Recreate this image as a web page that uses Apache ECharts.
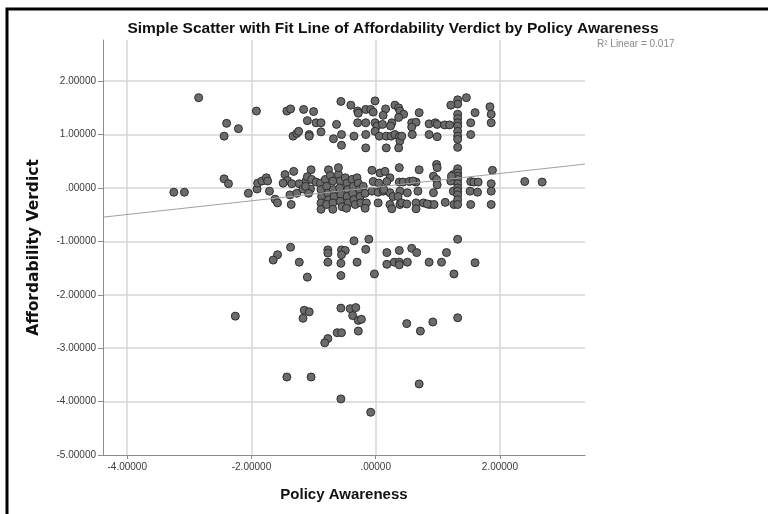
<!DOCTYPE html>
<html>
<head>
<meta charset="utf-8">
<script src="https://cdn.jsdelivr.net/npm/echarts@6/dist/echarts.min.js"></script>
<style>
html,body{margin:0;padding:0;background:#fff;}
#chart{width:768px;height:514px;}
</style>
</head>
<body>
<div id="chart"></div>
<script>
// ---- Data ----
const chartTitle = 'Simple Scatter with Fit Line of Affordability Verdict by Policy Awareness';
const xAxisTitle = 'Policy Awareness';
const yAxisTitle = 'Affordability Verdict';
const fitLabel = 'R\u00B2 Linear = 0.017';

const xRange = [-4.39, 3.37];
const yRange = [-5, 2.77];

// fitted line: verdict = fitIntercept + fitSlope * awareness
const fitIntercept = 0.015;
const fitSlope = 0.128;

const upperBand = [
  [-2.85,1.69],[-1.92,1.44],[-2.40,1.21],[-2.21,1.11],[-2.44,0.97],[-1.43,1.44],[-1.37,1.48],[-1.16,1.47],[-1.00,1.43],
  [-1.10,1.26],[-0.96,1.22],[-0.88,1.22],[-1.33,0.97],[-1.27,1.02],[-1.24,1.06],[-1.07,1.00],[-1.07,0.97],[-0.88,1.05],
  [-0.56,1.62],[-0.40,1.55],[-0.01,1.63],[-0.29,1.44],[-0.28,1.40],[-0.16,1.47],[-0.08,1.47],[-0.04,1.42],[0.16,1.48],
  [0.12,1.36],[0.31,1.55],[0.37,1.50],[0.39,1.44],[0.45,1.38],[0.37,1.32],[0.26,1.22],[0.24,1.16],[0.70,1.41],[-0.63,1.19],
  [-0.29,1.22],[-0.16,1.22],[-0.01,1.22],[0.02,1.16],[0.11,1.19],[0.58,1.22],[0.65,1.23],[0.58,1.14],[0.86,1.20],[0.96,1.22],
  [0.99,1.19],[1.11,1.18],[1.19,1.18],
  [1.32,1.65],[1.32,1.57],[1.32,1.38],[1.32,1.30],[1.32,1.22],[1.32,1.16],[1.32,1.06],[1.32,0.97],[1.32,0.91],[1.32,0.76],
  [1.21,1.55],[1.46,1.69],[1.60,1.41],[1.53,1.22],[1.53,1.00],[1.84,1.52],[1.86,1.38],[1.86,1.22],
  [-0.68,0.92],[-0.55,1.00],[-0.55,0.80],[-0.35,0.97],[-0.16,1.00],[-0.16,0.75],[-0.01,1.06],[0.06,0.97],[0.17,0.97],
  [0.17,0.75],[0.25,0.97],[0.31,1.00],[0.38,0.96],[0.39,0.88],[0.37,0.75],[0.42,0.97],[0.59,1.00],[0.86,1.00],[0.99,0.96]
];

const middleBandLeft = [
  [-3.25,-0.08],[-3.08,-0.08],[-2.44,0.17],[-2.37,0.08],
  [-2.05,-0.10],[-1.91,-0.02],[-1.90,0.09],[-1.83,0.13],[-1.76,0.19],[-1.74,0.13],[-1.71,-0.06],[-1.62,-0.21],[-1.58,-0.28],
  [-1.46,0.25],[-1.42,0.14],[-1.49,0.09],[-1.35,0.08],[-1.32,0.31],[-1.38,-0.13],[-1.36,-0.31],[-1.27,-0.10],[-1.23,0.08],
  [-1.17,-0.02],[-1.12,0.13],[-1.10,0.21],[-1.04,0.34],[-1.03,0.16],[-0.96,0.11],[-1.05,-0.02],[-1.08,-0.10],[-1.13,0.03],
  [-0.89,0.09],[-0.88,-0.03],[-0.87,-0.16],[-0.88,-0.28],[-0.88,-0.40],[-0.81,0.16],[-0.79,0.03],[-0.77,-0.10],[-0.76,-0.22],
  [-0.79,-0.31],[-0.76,0.34],[-0.73,0.23],[-0.69,0.13],[-0.68,-0.03],[-0.67,-0.16],[-0.69,-0.28],[-0.69,-0.40],[-0.60,0.25],
  [-0.57,0.13],[-0.58,0.00],[-0.56,-0.13],[-0.57,-0.25],[-0.54,-0.35],[-0.49,0.19],[-0.46,0.09],[-0.45,-0.03],[-0.46,-0.16],
  [-0.44,-0.28],[-0.47,-0.38],[-0.38,0.16],[-0.36,0.03],[-0.37,-0.10],[-0.35,-0.22],[-0.33,-0.31],[-0.30,0.19],[-0.28,0.09],
  [-0.26,-0.03],[-0.25,-0.16],[-0.24,-0.28],[-0.20,0.03],[-0.17,-0.10],[-0.15,-0.28],[-0.17,-0.38],[-0.60,0.38]
];

const middleBandRight = [
  [-0.06,0.33],[0.07,0.28],[0.15,0.31],[0.23,0.19],[0.18,0.12],[-0.04,0.12],[-0.06,-0.06],[0.04,-0.08],[0.12,-0.06],
  [0.23,-0.09],[0.28,-0.16],[0.04,-0.28],[0.23,-0.31],[0.26,-0.39],[0.38,0.38],[0.38,0.11],[0.44,0.11],[0.54,0.12],
  [0.39,-0.06],[0.51,-0.09],[0.36,-0.16],[0.39,-0.31],[0.42,-0.28],[0.50,-0.30],[0.65,0.11],[0.68,-0.06],[0.65,-0.28],
  [0.65,-0.39],[0.77,-0.28],[0.70,0.34],[0.98,0.44],[0.99,0.38],[0.93,0.22],[0.98,0.16],[0.99,0.06],[0.93,-0.09],
  [0.87,-0.31],[0.94,-0.31],[1.12,-0.27],[1.25,0.25],[1.25,-0.06],[1.26,-0.31],
  [1.32,0.36],[1.32,0.28],[1.32,0.22],[1.32,0.16],[1.32,0.08],[1.32,0.00],[1.32,-0.06],[1.32,-0.13],[1.32,-0.22],[1.32,-0.31],
  [1.53,0.12],[1.58,0.11],[1.65,0.11],[1.52,-0.06],[1.64,-0.08],[1.53,-0.31],[1.86,0.08],[1.86,-0.06],[1.86,-0.31],
  [1.88,0.33],[2.40,0.12],[2.68,0.11],
  [0.83,-0.30],[1.21,0.13],[1.22,0.22],[0.60,0.13],[0.13,-0.03],[0.05,0.09]
];

const lowerBand = [
  [-1.37,-1.11],[-1.58,-1.25],[-1.65,-1.35],[-1.23,-1.39],[-0.77,-1.16],[-0.77,-1.22],[-0.77,-1.39],[-1.10,-1.67],
  [-0.35,-0.99],[-0.11,-0.96],[1.32,-0.96],[-0.55,-1.16],[-0.49,-1.17],[-0.55,-1.25],[-0.56,-1.41],[-0.16,-1.15],
  [-0.30,-1.39],[0.18,-1.21],[0.38,-1.17],[0.58,-1.13],[0.66,-1.21],[1.14,-1.21],[0.18,-1.43],[0.30,-1.39],[0.38,-1.39],
  [0.38,-1.44],[0.51,-1.39],[0.86,-1.39],[1.06,-1.39],[1.60,-1.40],[-0.56,-1.64],[-0.02,-1.61],[1.26,-1.61]
];

const deepBand = [
  [-2.26,-2.40],[-1.15,-2.29],[-1.07,-2.32],[-1.17,-2.44],[-0.56,-2.25],[-0.41,-2.26],[-0.62,-2.71],[-0.55,-2.71],
  [-0.77,-2.82],[-0.82,-2.90],[-0.32,-2.24],[-0.37,-2.39],[-0.28,-2.48],[-0.23,-2.46],[-0.28,-2.68],[0.50,-2.54],
  [0.72,-2.68],[0.92,-2.51],[1.32,-2.43]
];

const outliers = [
  [-1.43,-3.54],[-1.04,-3.54],[-0.56,-3.95],[0.70,-3.67],[-0.08,-4.20]
];

// ---- Build chart ----
const points = [].concat(upperBand, middleBandLeft, middleBandRight, lowerBand, deepBand, outliers);
const fitLine = [
  [xRange[0], fitIntercept + fitSlope * xRange[0]],
  [xRange[1], fitIntercept + fitSlope * xRange[1]]
];

function fmt(v) {
  if (Math.abs(v) < 1e-9) return '.00000';
  return v.toFixed(5);
}

const axisLabelStyle = {color: '#3a3a3a', fontSize: 10, fontFamily: 'Liberation Sans'};
const splitStyle = {show: true, showMinLine: false, showMaxLine: false, lineStyle: {color: '#d6d6d6', width: 1.5}};

const chart = echarts.init(document.getElementById('chart'), null, {renderer: 'canvas'});
chart.setOption({
  backgroundColor: '#fff',
  animation: false,
  title: {
    text: chartTitle,
    left: 388, top: 16, textAlign: 'center',
    textStyle: {fontFamily: 'Liberation Sans', fontWeight: 'bold', fontSize: 15.5, color: '#111'}
  },
  grid: {left: 103, right: 183, top: 40, bottom: 59, containLabel: false},
  xAxis: {
    type: 'value', min: xRange[0], max: xRange[1], splitNumber: 4,
    name: xAxisTitle, nameLocation: 'middle', nameGap: 32,
    nameTextStyle: {fontFamily: 'Liberation Sans', fontWeight: 'bold', fontSize: 15, color: '#111'},
    axisLine: {show: true, onZero: false, lineStyle: {color: '#8c8c8c', width: 1}},
    axisTick: {show: true, length: 4, lineStyle: {color: '#8c8c8c'}},
    axisLabel: Object.assign({formatter: fmt, showMinLabel: false, showMaxLabel: false, margin: 7}, axisLabelStyle),
    splitLine: splitStyle
  },
  yAxis: {
    type: 'value', min: yRange[0], max: yRange[1], splitNumber: 8,
    name: yAxisTitle, nameLocation: 'middle', nameGap: 61, nameRotate: 90,
    nameTextStyle: {fontFamily: 'DejaVu Sans', fontWeight: 'bold', fontSize: 15.5, color: '#111'},
    axisLine: {show: true, onZero: false, lineStyle: {color: '#8c8c8c', width: 1}},
    axisTick: {show: true, length: 5, lineStyle: {color: '#8c8c8c'}},
    axisLabel: Object.assign({formatter: fmt, showMinLabel: true, showMaxLabel: false, margin: 7}, axisLabelStyle),
    splitLine: splitStyle
  },
  series: [
    {
      type: 'scatter', data: points, symbolSize: 8, silent: true, z: 3,
      itemStyle: {color: '#6b6b6b', borderColor: '#2e2e2e', borderWidth: 1, opacity: 1}
    },
    {
      type: 'line', data: fitLine, symbol: 'none', silent: true, z: 4,
      lineStyle: {color: '#a0a0a0', width: 1}
    }
  ],
  graphic: [
    {type: 'text', left: 597, top: 39, style: {text: fitLabel, fill: '#8a8a8a', fontSize: 10, fontFamily: 'Liberation Sans'}},
    {type: 'polyline', shape: {points: [[7, 514], [7, 9], [768, 9]]}, style: {stroke: '#000', lineWidth: 3, fill: null}}
  ]
});
</script>
</body>
</html>
